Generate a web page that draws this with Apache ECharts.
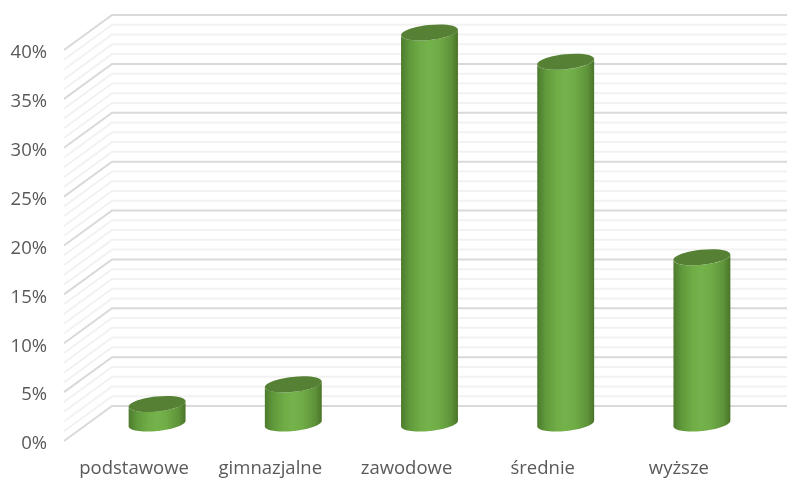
<!DOCTYPE html>
<html><head><meta charset="utf-8">
<style>html,body{margin:0;padding:0;background:#fff}#c{width:787px;height:479px}</style>
<script src="https://cdn.jsdelivr.net/npm/echarts@6/dist/echarts.min.js"></script>
</head><body><div id="c"></div>
<script>
const categories = ['podstawowe','gimnazjalne','zawodowe','średnie','wyższe'];
const values = [2,4,40,37,17];
const majorTicks = [0,5,10,15,20,25,30,35,40];
const minorTicks = [1,2,3,4,6,7,8,9,11,12,13,14,16,17,18,19,21,22,23,24,26,27,28,29,31,32,33,34,36,37,38,39];

const DEPTH_X = 48, DEPTH_Y = -35;
const FONT = '"Open Sans"';
const chart = echarts.init(document.getElementById('c'), null, {renderer:'canvas'});

function gridItem(params, api){
  const v = api.value(1);
  const major = api.value(2) === 1;
  const cs = params.coordSys;
  const y = api.coord([0, v])[1];
  const x0 = cs.x, x1 = x0 + DEPTH_X;
  return {type:'polyline', silent:true,
    shape:{points:[[x0,y],[x1,y+DEPTH_Y],[800,y+DEPTH_Y]]},
    style:{fill:null, stroke: major ? '#d9d9d9' : '#f2f2f2', lineWidth: 2}};
}
function ell(cx,cy,a,b,th,t){
  const c=Math.cos(th), s=Math.sin(th);
  return [cx + a*Math.cos(t)*c - b*Math.sin(t)*s, cy + a*Math.cos(t)*s + b*Math.sin(t)*c];
}
function barItem(params, api){
  const i = api.value(0), v = api.value(1);
  const top = api.coord([i, v]), base = api.coord([i, 0]);
  const band = api.size([1,0])[0];
  const a = band*0.21, b = 7.5, th = -6*Math.PI/180;
  const cx = top[0] + DEPTH_X/2 + 1, ty = top[1] + DEPTH_Y/2, by = base[1] + DEPTH_Y/2;
  const t0 = Math.atan2(-b*Math.sin(th), a*Math.cos(th));
  const N = 60, body = [];
  for(let k=0;k<=N;k++){ body.push(ell(cx,by,a,b,th,t0 + Math.PI*k/N)); }
  for(let k=0;k<=N;k++){ body.push(ell(cx,ty,a,b,th,t0 + Math.PI - Math.PI*k/N)); }
  const grad = new echarts.graphic.LinearGradient(0,0,1,0,[
    {offset:0,color:'#4e7a2d'},{offset:0.15,color:'#5f9a3b'},{offset:0.35,color:'#70ad47'},
    {offset:0.5,color:'#74b24b'},{offset:0.65,color:'#70ad47'},{offset:0.88,color:'#5e9339'},{offset:1,color:'#4a7429'}]);
  return {type:'group', children:[
    {type:'polygon', shape:{points:body}, style:{fill:grad}},
    {type:'ellipse', shape:{cx:0,cy:0,rx:a,ry:b}, x:cx, y:ty, rotation:-th, style:{fill:'#568134'}}
  ]};
}
const gridData = minorTicks.map(v=>[0,v,0]).concat(majorTicks.map(v=>[0,v,1]));
chart.setOption({
  animation:false,
  backgroundColor:'#fff',
  grid:{left:64, top:50, width:681, height:391, containLabel:false},
  xAxis:{type:'category', data:categories,
    axisLine:{show:false}, axisTick:{show:false}, splitLine:{show:false},
    axisLabel:{color:'#595959', fontFamily:FONT, fontSize:18.5, margin:18, interval:0, padding:[0,0,0,4]}},
  yAxis:{type:'value', min:0, max:40, interval:5,
    axisLine:{show:false}, axisTick:{show:false}, splitLine:{show:false},
    axisLabel:{margin:17, formatter:'{a|{value}%}',
      rich:{a:{color:'#595959', fontFamily:FONT, fontSize:18.5, padding:[6,0,0,0]}}}},
  series:[
    {type:'custom', coordinateSystem:'cartesian2d', clip:false, silent:true, z:1,
      renderItem:gridItem, data:gridData, encode:{x:0,y:1}},
    {type:'custom', coordinateSystem:'cartesian2d', clip:false, z:2,
      renderItem:barItem, data:values.map((v,i)=>[i,v]), encode:{x:0,y:1}}
  ]
});
</script></body></html>
